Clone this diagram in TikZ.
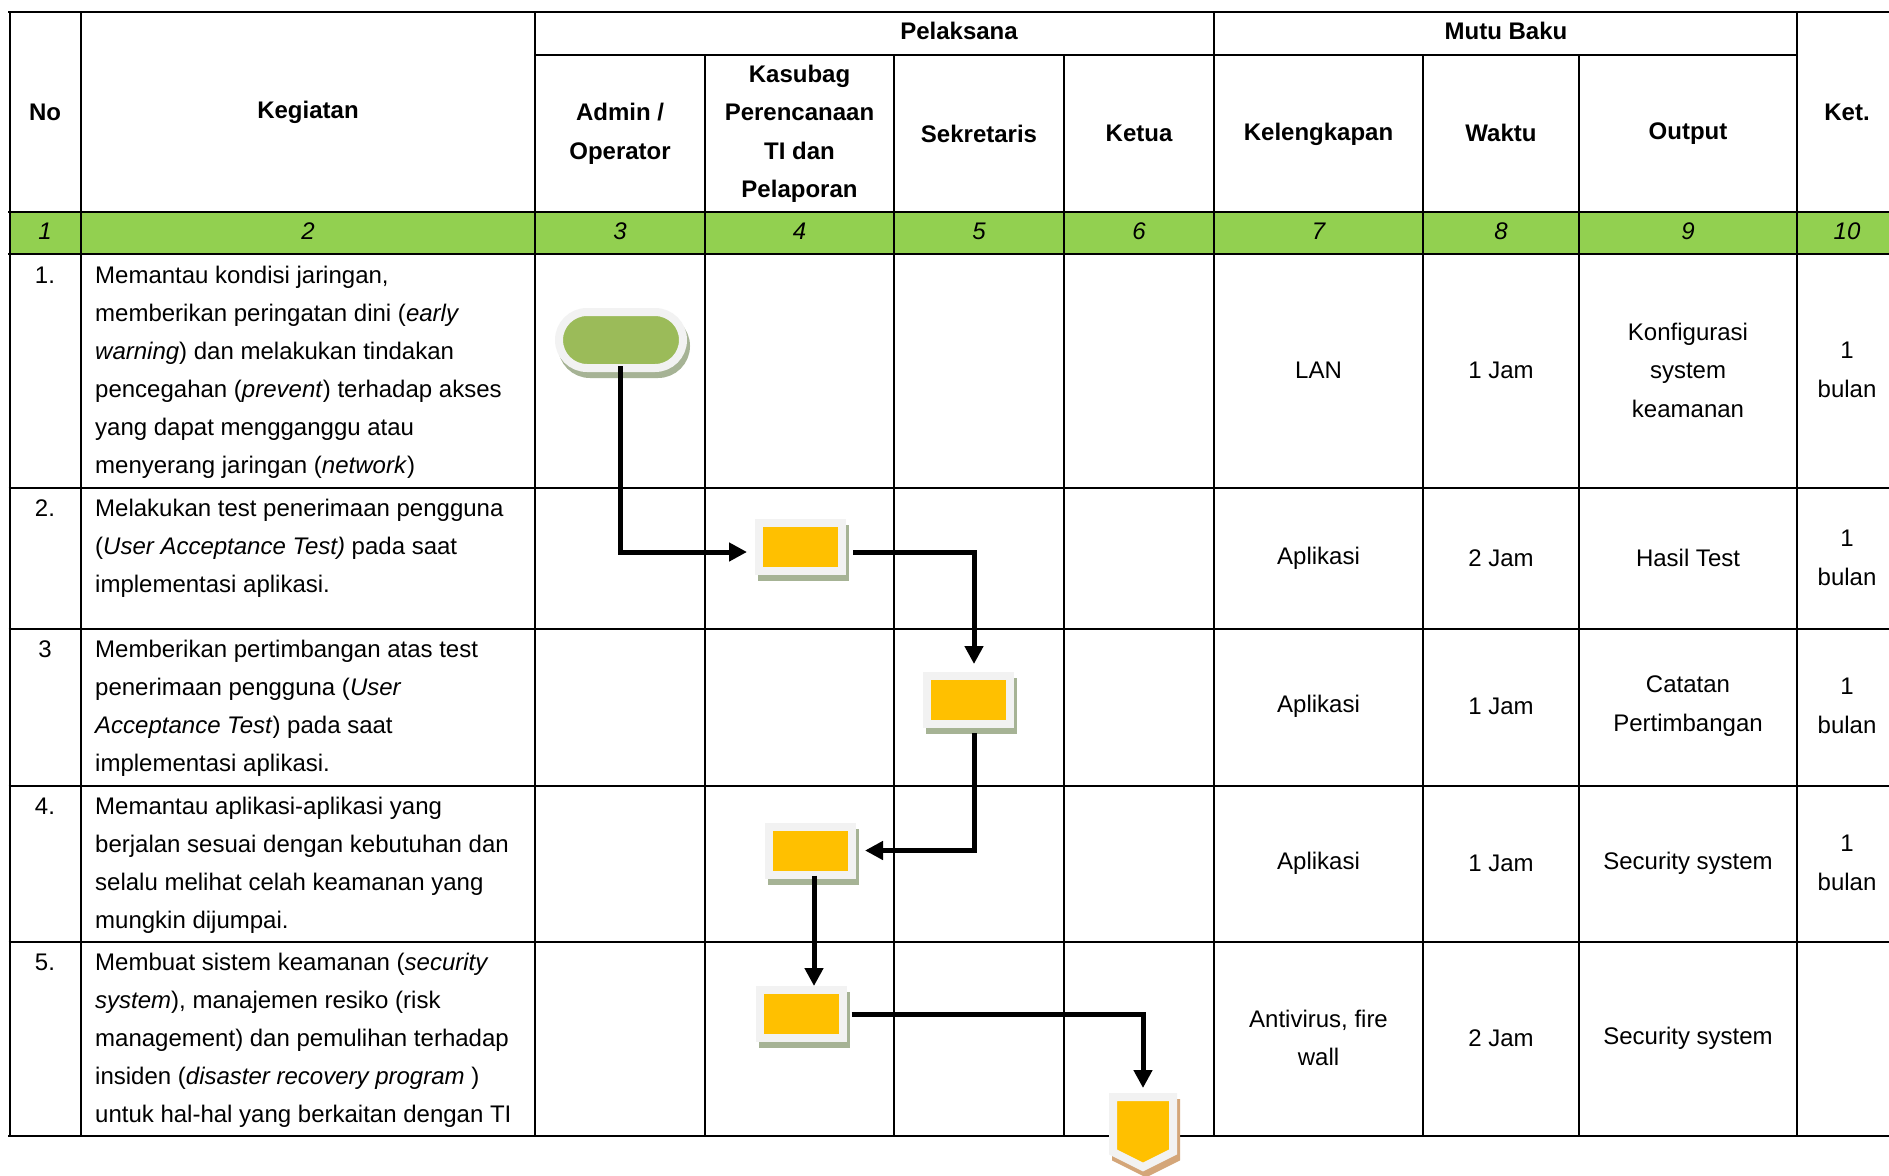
\documentclass[tikz,border=0pt]{standalone}
\usepackage{fontspec}
\setmainfont{Liberation Sans}
\usetikzlibrary{arrows.meta,shapes.misc,calc}
\definecolor{hdrgreen}{HTML}{92D050}
\definecolor{boxyellow}{HTML}{FFC000}
\definecolor{termgreen}{HTML}{9BBB59}
\definecolor{rimgrey}{HTML}{F2F2F2}
\definecolor{shadegreen}{HTML}{A6B395}
\definecolor{shadetan}{HTML}{D4A679}
\tikzset{
  gridline/.style={line width=2pt, black},
  gridthick/.style={line width=2.8pt, black},
  hd/.style={font=\fontsize{24}{38.5}\selectfont\bfseries, align=center, inner sep=0pt},
  numtxt/.style={font=\fontsize{24}{29}\selectfont\itshape, inner sep=0pt},
  celltxt/.style={font=\fontsize{24}{38.5}\selectfont, align=center, inner sep=0pt},
  bodytxt/.style={font=\fontsize{24}{38}\selectfont, align=left, inner sep=0pt, anchor=base west},
  notxt/.style={font=\fontsize{24}{38}\selectfont, inner sep=0pt, anchor=base},
  boxshadow/.style={preaction={fill=shadegreen, draw=shadegreen, transform canvas={xshift=3pt,yshift=-6pt}}},
  procbox/.style={rectangle, fill=boxyellow, draw=rimgrey, line width=8pt,
    minimum width=83pt, minimum height=48pt, inner sep=0pt, boxshadow},
  termbox/.style={rounded rectangle, fill=termgreen, draw=rimgrey, line width=8pt,
    minimum width=124pt, minimum height=56pt, inner sep=0pt, boxshadow},
  conn/.style={line width=5pt, line join=miter, -{Triangle[length=18pt,width=18pt]}},
}
\begin{document}
\begin{tikzpicture}[x=1pt,y=-1pt]
\clip (0,0) rectangle (1889,1175);
\fill[white] (0,0) rectangle (1889,1175);
% green number row
\fill[hdrgreen] (9.6,212) rectangle (1900,254);
% horizontal lines
\draw[gridthick] (8.2,12) -- (1900,12);
\draw[gridline] (535,55) -- (1797,55);
\draw[gridthick] (8.2,212) -- (1900,212);
\draw[gridthick] (8.2,254) -- (1900,254);
\foreach \yy in {488,629,785.5,942} \draw[gridline] (8.6,\yy) -- (1900,\yy);
\draw[gridthick] (8.2,1136) -- (1900,1136);
% vertical lines
\foreach \xx in {9.6,80.7,535,1214,1797} \draw[gridline] (\xx,12) -- (\xx,1136);
\foreach \xx in {705,894,1064,1423,1579} \draw[gridline] (\xx,55) -- (\xx,1136);

% header texts
\node[hd] (hNo) at (45,112) {No};
\node[hd] (hKeg) at (308,112) {Kegiatan};
\node[hd] (hPel) at (959,31) {Pelaksana};
\node[hd] (hMutu) at (1506,31) {Mutu Baku};
\node[hd] (hKet) at (1847,112) {Ket.};
\node[hd] (hAdm) at (620,134) {Admin /\\Operator};
\node[hd] (hKas) at (799.5,134) {Kasubag\\Perencanaan\\TI dan\\Pelaporan};
\node[hd] (hSek) at (979,133.5) {Sekretaris};
\node[hd] (hKetua) at (1139,133) {Ketua};
\node[hd] (hKel) at (1318.5,134) {Kelengkapan};
\node[hd] (hWak) at (1501,133) {Waktu};
\node[hd] (hOut) at (1688,134) {Output};
% number row
\foreach \xx/\tt [count=\i] in {45/1,308/2,620/3,799.5/4,979/5,1139/6,1318.5/7,1501/8,1688/9,1847/10}
  \node[numtxt] (n\i) at (\xx,231) {\tt};

% column 1 numbers
\node[notxt] (r1no) at (45,283) {1.};
\node[notxt] (r2no) at (45,516.5) {2.};
\node[notxt] (r3no) at (45,657.5) {3};
\node[notxt] (r4no) at (45,814) {4.};
\node[notxt] (r5no) at (45,970.5) {5.};

% column 2 activities (anchored at the baseline of the last line)
\node[bodytxt] (r1txt) at (95,473) {Memantau kondisi jaringan,\\
memberikan peringatan dini (\textit{early}\\
\textit{warning}) dan melakukan tindakan\\
pencegahan (\textit{prevent}) terhadap akses\\
yang dapat mengganggu atau\\
menyerang jaringan (\textit{network})};
\node[bodytxt] (r2txt) at (95,592.5) {Melakukan test penerimaan pengguna\\
(\textit{User Acceptance Test)} pada saat\\
implementasi aplikasi.};
\node[bodytxt] (r3txt) at (95,771.5) {Memberikan pertimbangan atas test\\
penerimaan pengguna (\textit{User}\\
\textit{Acceptance Test}) pada saat\\
implementasi aplikasi.};
\node[bodytxt] (r4txt) at (95,928) {Memantau aplikasi-aplikasi yang\\
berjalan sesuai dengan kebutuhan dan\\
selalu melihat celah keamanan yang\\
mungkin dijumpai.};
\node[bodytxt] (r5txt) at (95,1122.5) {Membuat sistem keamanan (\textit{security}\\
\textit{system}), manajemen resiko (risk\\
management) dan pemulihan terhadap\\
insiden (\textit{disaster recovery program} )\\
untuk hal-hal yang berkaitan dengan TI};

% mutu baku columns
\node[celltxt] (r1kel) at (1318.5,370) {LAN};
\node[celltxt] (r1wak) at (1501,370) {1 Jam};
\node[celltxt] (r1out) at (1688,370) {Konfigurasi\\system\\keamanan};
\node[celltxt] (r1ket) at (1847,370) {1\\bulan};
\node[celltxt] (r2kel) at (1318.5,558) {Aplikasi};
\node[celltxt] (r2wak) at (1501,558) {2 Jam};
\node[celltxt] (r2out) at (1688,558) {Hasil Test};
\node[celltxt] (r2ket) at (1847,558) {1\\bulan};
\node[celltxt] (r3kel) at (1318.5,706) {Aplikasi};
\node[celltxt] (r3wak) at (1501,706) {1 Jam};
\node[celltxt] (r3out) at (1688,706) {Catatan\\Pertimbangan};
\node[celltxt] (r3ket) at (1847,706) {1\\bulan};
\node[celltxt] (r4kel) at (1318.5,863) {Aplikasi};
\node[celltxt] (r4wak) at (1501,863) {1 Jam};
\node[celltxt] (r4out) at (1688,863) {Security system};
\node[celltxt] (r4ket) at (1847,863) {1\\bulan};
\node[celltxt] (r5kel) at (1318.5,1038) {Antivirus, fire\\wall};
\node[celltxt] (r5wak) at (1501,1038) {2 Jam};
\node[celltxt] (r5out) at (1688,1038) {Security system};

% flow shapes
\node[termbox] (term) at (621,340) {};
\node[procbox] (p2) at (800.5,547) {};
\node[procbox] (p3) at (968,700) {};
\node[procbox] (p4) at (810.5,850.5) {};
\node[procbox] (p5) at (801,1014) {};
% off-page connector
\fill[shadetan, draw=shadetan, line width=8pt, line join=miter]
  (1116,1103) -- (1176,1103) -- (1176,1158) -- (1146,1173) -- (1116,1158) -- cycle;
\filldraw[fill=boxyellow, draw=rimgrey, line width=8pt, line join=miter]
  (1113,1097) -- (1173,1097) -- (1173,1152) -- (1143,1167) -- (1113,1152) -- cycle;
\coordinate (offtop) at (1143,1093);

% connectors
\draw[conn, shorten >=8pt] ($(term.south)+(-1,-6)$) |- ($(p2.west)+(0,5)$);
\draw[conn, shorten >=8pt] ($(p2.east)+(7,5)$) -| ($(p3.north)+(6,0)$);
\draw[conn, shorten >=9pt] ($(p3.south)+(6,5)$) |- (p4.east);
\draw[conn] ($(p4.south)+(3.5,-3)$) coordinate (s4) -- (s4 |- p5.north);
\draw[conn, shorten >=5pt] ($(p5.east)+(5,0)$) -| (offtop);
\end{tikzpicture}
\end{document}
